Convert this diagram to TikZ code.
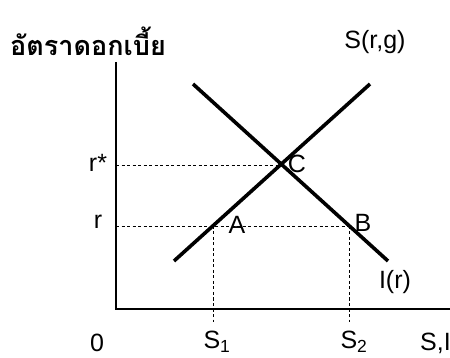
\documentclass[tikz,border=0pt]{standalone}
\usepackage{fontspec}
\setmainfont{Liberation Sans}
\newfontfamily\thaifont[Script=Thai]{Loma}
\begin{document}
\begin{tikzpicture}[x=1pt,y=-1pt,
  axis/.style={line width=1.8pt},
  curve/.style={line width=3.6pt},
  guide/.style={line width=0.9pt, dash pattern=on 3pt off 2.5pt},
  lbl/.style={font=\fontsize{25}{27}\selectfont, inner sep=0pt}]
\useasboundingbox (0,0) rectangle (450,358);
% axes
\coordinate (O) at (116,309);
\coordinate (ytop) at (116,62);
\coordinate (xend) at (452,309);
\draw[axis] (ytop) -- (O) -- (xend);
% intersection points
\coordinate (A) at (213,226);
\coordinate (B) at (349,226);
\coordinate (C) at (282,165);
\coordinate (ry) at (116,226);
\coordinate (rsy) at (116,165);
\coordinate (s1b) at (213,322);
\coordinate (s2b) at (349,322);
% guides
\draw[guide] (rsy) -- (C);
\draw[guide] (ry) -- (B);
\draw[guide] (A) -- (s1b);
\draw[guide] (B) -- (s2b);
% curves
\coordinate (Sa) at (174,261);
\coordinate (Sb) at (370,84);
\coordinate (Ia) at (193,84);
\coordinate (Ib) at (388,261);
\draw[curve] (Sa) -- (Sb);
\draw[curve] (Ia) -- (Ib);
% labels
\node[lbl, anchor=west, font=\thaifont\bfseries\fontsize{27}{29}\selectfont] (title) at (10,41) {อัตราดอกเบี้ย};
\node[lbl] (Slab) at (375,42) {S(r,g)};
\node[lbl] (rstar) at (98,163) {r*};
\node[lbl] (rlab) at (98,222) {r};
\node[lbl] (Clab) at (297,164) {C};
\node[lbl] (Alab) at (237,225) {A};
\node[lbl] (Blab) at (363,223) {B};
\node[lbl] (Ilab) at (395,282) {I(r)};
\node[lbl] (zero) at (97,343) {0};
\node[lbl] (S1) at (217,342) {S\textsubscript{1}};
\node[lbl] (S2) at (354,342) {S\textsubscript{2}};
\node[lbl, anchor=west] (SI) at (420,343) {S,I};
\end{tikzpicture}
\end{document}
